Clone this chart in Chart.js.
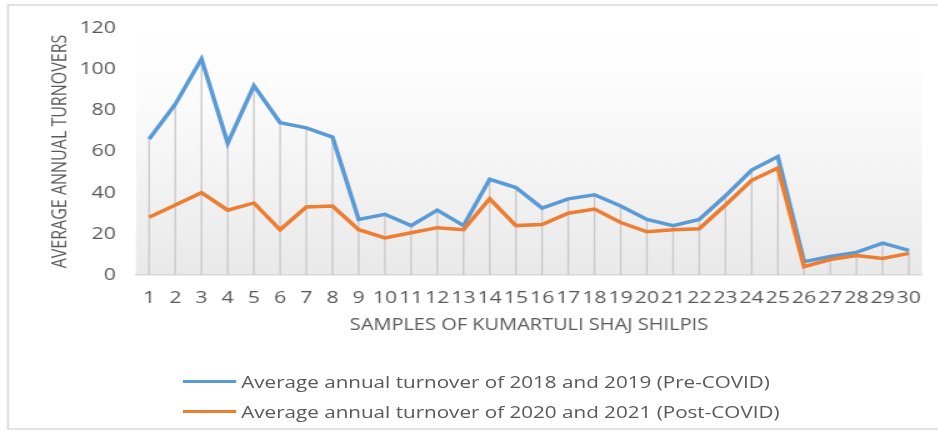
<!DOCTYPE html>
<html>
<head>
<meta charset="utf-8">
<title>Average annual turnovers</title>
<script src="https://cdn.jsdelivr.net/npm/chart.js@4/dist/chart.umd.min.js"></script>
<style>
    html, body { margin: 0; padding: 0; background: #ffffff; overflow: hidden; }
    /* the whole figure is drawn narrow and widened horizontally */
    #wrap {
        position: relative;
        width: 750px;
        height: 437px;
        transform: scaleX(1.25);
        transform-origin: 0 0;
    }
    #legend {
        position: absolute;
        left: 146px;
        top: 366px;
        font-family: "Open Sans", sans-serif;
        font-size: 16.5px;
        color: #595959;
    }
    .row { display: flex; align-items: center; height: 30px; }
    .swatch { width: 43px; height: 3px; margin-right: 4px; }
</style>
</head>
<body>
<div id="wrap">
    <canvas id="turnoverChart" width="750" height="437"></canvas>
    <div id="legend"></div>
</div>
<script>
// ==========================================
// DATA
// ==========================================
const samples = ['1', '2', '3', '4', '5', '6', '7', '8', '9', '10',
    '11', '12', '13', '14', '15', '16', '17', '18', '19', '20',
    '21', '22', '23', '24', '25', '26', '27', '28', '29', '30'];

const preCovid = [66, 83, 105, 64, 92, 74, 71.5, 67, 27, 29.5,
    24, 31.5, 24, 46.5, 42.5, 32.5, 37, 39, 33.5, 27,
    24, 27, 38.5, 51, 57.5, 6.5, 9, 11, 15.5, 12];

const postCovid = [28, 34, 40, 31.5, 35, 22, 33, 33.5, 22, 18,
    20.5, 23, 22, 37, 24, 24.5, 30, 32, 25.5, 21,
    22, 22.5, 34, 46, 52, 4, 7.5, 9.5, 8, 10.5];

const yTicks = [0, 20, 40, 60, 80, 100, 120];

const preLabel = 'Average annual turnover of 2018 and 2019 (Pre-COVID)';
const postLabel = 'Average annual turnover of 2020 and 2021 (Post-COVID)';

const blue = '#5b9bd5';
const orange = '#ed7d31';
const textGray = '#595959';

// ==========================================
// PLUGINS
// ==========================================
// outer frame + shaded plot area
const backdrop = {
    id: 'backdrop',
    beforeDraw(chart) {
        const { ctx, chartArea: a } = chart;
        ctx.save();
        ctx.strokeStyle = '#d9d9d9';
        ctx.lineWidth = 1.6;
        ctx.beginPath();
        ctx.moveTo(760, 5);
        ctx.lineTo(6.4, 5);
        ctx.lineTo(6.4, 429);
        ctx.lineTo(760, 429);
        ctx.stroke();

        const g = ctx.createLinearGradient(0, a.top, 0, a.bottom);
        g.addColorStop(0, '#ffffff');
        g.addColorStop(0.3, '#fbfbfb');
        g.addColorStop(1, '#e9e9e9');
        ctx.fillStyle = g;
        ctx.fillRect(a.left, a.top, a.right - a.left, a.bottom - a.top);
        ctx.restore();
    }
};

// gray drop lines from the higher point of each sample down to the axis
const dropLines = {
    id: 'dropLines',
    beforeDatasetsDraw(chart) {
        const { ctx, scales: { x, y } } = chart;
        ctx.save();
        ctx.strokeStyle = '#c8c8c8';
        ctx.lineWidth = 1.3;
        samples.forEach((s, i) => {
            const px = x.getPixelForValue(i);
            const top = y.getPixelForValue(Math.max(preCovid[i], postCovid[i]));
            ctx.beginPath();
            ctx.moveTo(px, top);
            ctx.lineTo(px, y.getPixelForValue(0));
            ctx.stroke();
        });
        ctx.restore();
    }
};

// ==========================================
// CHART
// ==========================================
const ctx = document.getElementById('turnoverChart').getContext('2d');

const turnoverChart = new Chart(ctx, {
    type: 'line',
    data: {
        labels: samples,
        datasets: [
            {
                label: preLabel,
                data: preCovid,
                borderColor: blue,
                backgroundColor: blue,
                borderWidth: 3.5,
                pointRadius: 0,
                tension: 0,
                order: 2
            },
            {
                label: postLabel,
                data: postCovid,
                borderColor: orange,
                backgroundColor: orange,
                borderWidth: 3.5,
                pointRadius: 0,
                tension: 0,
                order: 1
            }
        ]
    },
    options: {
        responsive: false,
        animation: false,
        layout: { padding: { top: 28, right: 12.4, bottom: 0, left: 0 } },
        plugins: {
            legend: { display: false },
            tooltip: { enabled: false }
        },
        scales: {
            x: {
                offset: true,
                grid: { display: true, drawOnChartArea: false, drawTicks: false },
                border: { display: true, color: '#d9d9d9', width: 1.5 },
                ticks: {
                    color: textGray,
                    font: { family: 'Open Sans', size: 17 },
                    padding: 13,
                    autoSkip: false,
                    maxRotation: 0
                },
                title: {
                    display: true,
                    text: 'SAMPLES OF KUMARTULI SHAJ SHILPIS',
                    color: textGray,
                    font: { family: 'Open Sans', size: 16 },
                    padding: { top: 0, bottom: 102.4 }
                },
                afterFit(scale) { scale.height = 162; }
            },
            y: {
                min: 0,
                max: 120,
                afterBuildTicks(scale) { scale.ticks = yTicks.map(v => ({ value: v })); },
                grid: { display: false, drawTicks: false },
                border: { display: false },
                ticks: {
                    color: textGray,
                    font: { family: 'Open Sans', size: 17 },
                    padding: 16
                },
                title: {
                    display: true,
                    text: 'AVERAGE ANNUAL TURNOVERS',
                    color: textGray,
                    font: { family: 'Open Sans', size: 16 },
                    padding: { top: 38.4, bottom: 0 }
                },
                afterFit(scale) { scale.width = 108.8; }
            }
        }
    },
    plugins: [backdrop, dropLines]
});

// ==========================================
// LEGEND
// ==========================================
const legendEl = document.getElementById('legend');
turnoverChart.data.datasets.forEach(ds => {
    const row = document.createElement('div');
    row.className = 'row';
    const sw = document.createElement('span');
    sw.className = 'swatch';
    sw.style.background = ds.borderColor;
    const txt = document.createElement('span');
    txt.textContent = ds.label;
    row.appendChild(sw);
    row.appendChild(txt);
    legendEl.appendChild(row);
});
</script>
</body>
</html>
